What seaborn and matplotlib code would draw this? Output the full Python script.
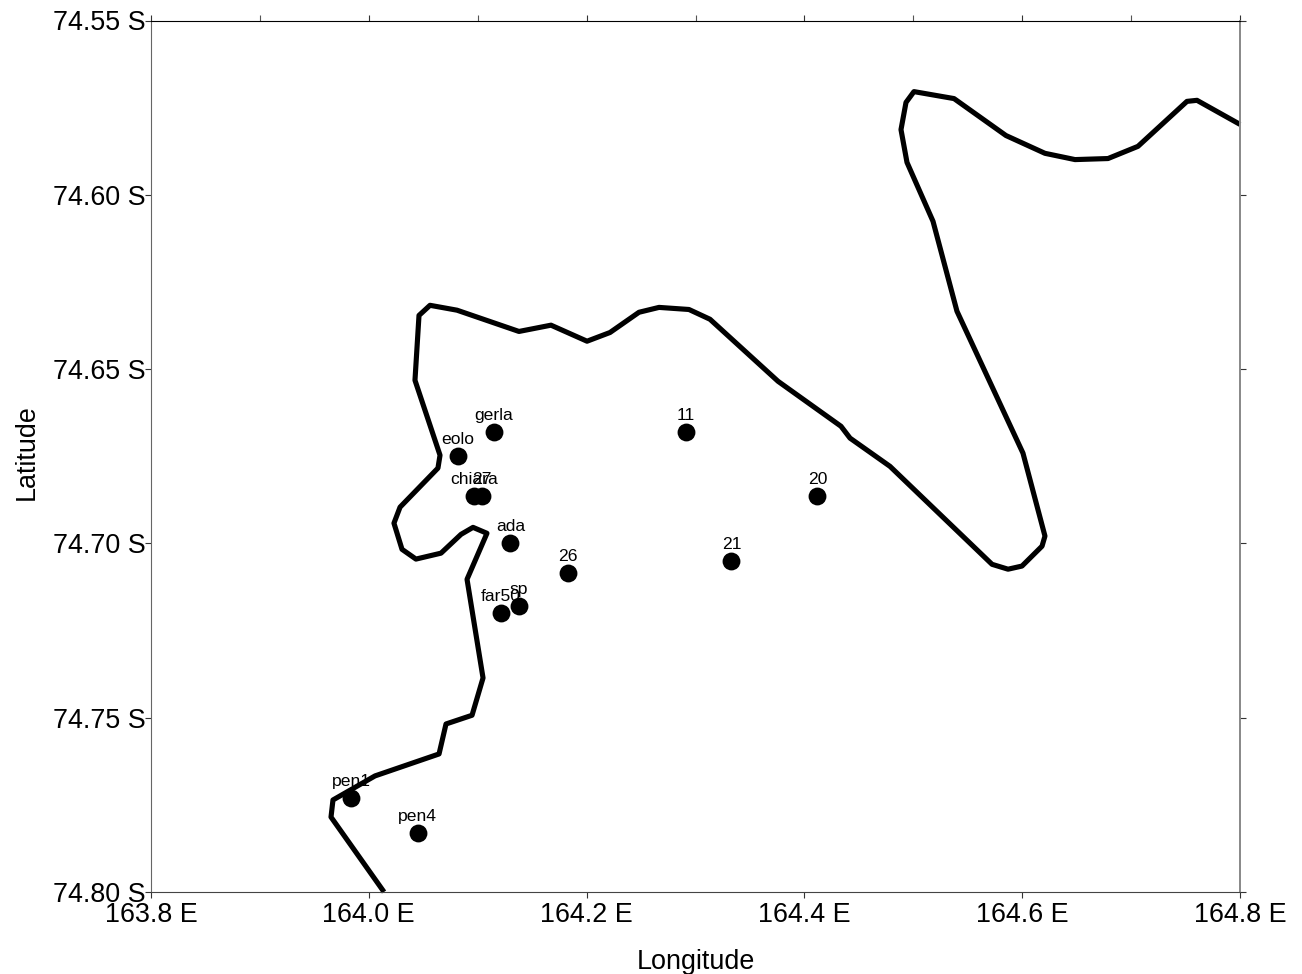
import matplotlib
matplotlib.use("Agg")
import matplotlib.pyplot as plt
import seaborn as sns
import pandas as pd

coast_lon = [164.8, 164.7605, 164.7513, 164.7063, 164.6788, 164.6485, 164.6209, 164.5851, 164.5374, 164.5006,
             164.4933, 164.4887, 164.4942, 164.5181, 164.5401, 164.6007, 164.6209, 164.6182, 164.5998, 164.5870,
             164.5723, 164.4786, 164.4419, 164.4336, 164.3758, 164.3133, 164.2940, 164.2665, 164.2481, 164.2215,
             164.2004, 164.1673, 164.1379, 164.0810, 164.0562, 164.0461, 164.0424, 164.0654, 164.0635, 164.0287,
             164.0231, 164.0305, 164.0433, 164.0663, 164.0847, 164.0957, 164.1085, 164.0902, 164.1049, 164.0948,
             164.0709, 164.0645, 164.0057, 163.9671, 163.9653, 164.0140]
coast_lat = [-74.5798, -74.5729, -74.5732, -74.5861, -74.5896, -74.5899, -74.5881, -74.5830, -74.5724, -74.5704,
             -74.5735, -74.5813, -74.5907, -74.6076, -74.6334, -74.6741, -74.6979, -74.7008, -74.7065, -74.7074,
             -74.7060, -74.6779, -74.6698, -74.6664, -74.6535, -74.6357, -74.6329, -74.6323, -74.6337, -74.6395,
             -74.6420, -74.6374, -74.6392, -74.6331, -74.6317, -74.6346, -74.6532, -74.6747, -74.6784, -74.6896,
             -74.6942, -74.7017, -74.7045, -74.7028, -74.6974, -74.6954, -74.6971, -74.7103, -74.7386, -74.7493,
             -74.7518, -74.7604, -74.7667, -74.7736, -74.7785, -74.80]

stations = ["eolo", "gerla", "11", "20", "chiara", "27", "ada", "21", "26", "sp", "far50", "pen1", "pen4"]
st_lon = [164.082, 164.115, 164.291, 164.412, 164.097, 164.104, 164.130, 164.333, 164.183, 164.138, 164.121, 163.984, 164.045]
st_lat = [-74.675, -74.668, -74.668, -74.6865, -74.6865, -74.6865, -74.700, -74.705, -74.7085, -74.718, -74.720, -74.773, -74.783]

x_ticks = [163.8, 164.0, 164.2, 164.4, 164.6, 164.8]
x_labels = ["163.8 E", "164.0 E", "164.2 E", "164.4 E", "164.6 E", "164.8 E"]
x_top_minor = [163.9, 164.1, 164.3, 164.5, 164.7]
y_ticks = [-74.55, -74.60, -74.65, -74.70, -74.75, -74.80]
y_labels = ["74.55 S", "74.60 S", "74.65 S", "74.70 S", "74.75 S", "74.80 S"]

sns.set_theme(style="ticks")
plt.rcParams["font.family"] = ["Liberation Sans", "DejaVu Sans"]

coast = pd.DataFrame({"lon": coast_lon, "lat": coast_lat})
pts = pd.DataFrame({"lon": st_lon, "lat": st_lat, "name": stations})

fig = plt.figure(figsize=(13.02, 9.74), dpi=100)
ax = fig.add_axes([151 / 1302, 1 - 892 / 974, 1089 / 1302, 871.5 / 974])

sns.lineplot(data=coast, x="lon", y="lat", sort=False, estimator=None, color="black",
             linewidth=3.7, ax=ax, solid_joinstyle="round", solid_capstyle="butt", clip_on=False)
sns.scatterplot(data=pts, x="lon", y="lat", color="black", s=165, linewidth=0, ax=ax, zorder=3, clip_on=False)

for name, lon, lat in zip(stations, st_lon, st_lat):
    ax.annotate(name, (lon, lat), xytext=(0, 6.6), textcoords="offset points", ha="center", va="bottom",
                fontsize=12.6, color="black", zorder=4)

ax.set_xlim(163.8, 164.8)
ax.set_ylim(-74.80, -74.55)
ax.set_xticks(x_ticks, x_labels)
ax.set_yticks(y_ticks, y_labels)
ax.tick_params(axis="both", which="major", direction="out", length=4.5, width=0.8, color="#333333",
               labelsize=19.4, labelcolor="black", top=True, right=True)
ax.tick_params(axis="x", which="major", pad=2.5)
ax.tick_params(axis="y", which="major", pad=-0.5)
ax.set_xticks(x_top_minor, minor=True)
ax.tick_params(axis="x", which="minor", direction="out", length=4.5, width=0.8, color="#555555",
               top=True, bottom=False)
ax.set_xlabel("Longitude", fontsize=19.4, color="black")
ax.set_ylabel("Latitude", fontsize=19.4, color="black")
ax.xaxis.set_label_coords(0.5005, -0.065)
ax.yaxis.set_label_coords(-0.102, 0.505)
for s in ax.spines.values():
    s.set_visible(True)
    s.set_linewidth(0.8)
    s.set_color("black")
ax.spines["left"].set_color("#666666")
ax.spines["bottom"].set_color("#444444")
ax.spines["right"].set_color("#888888")
ax.spines["right"].set_linewidth(1.4)

fig.savefig("out.png", dpi=100, facecolor="white")
